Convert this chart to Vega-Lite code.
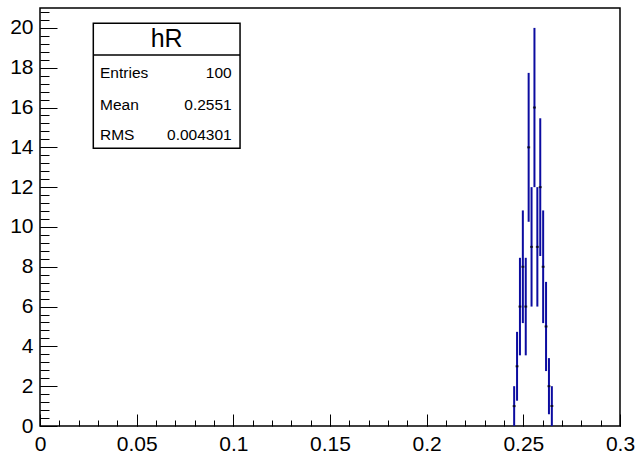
{
  "$schema": "https://vega.github.io/schema/vega-lite/v6.json",
  "width": 580,
  "height": 418,
  "autosize": {"type": "none"},
  "padding": {"left": 40, "top": 8, "right": 18, "bottom": 27},
  "background": "white",
  "config": {
    "view": {"stroke": "black", "strokeWidth": 1.5},
    "axis": {"grid": false, "domain": false, "labelFont": "Liberation Sans", "labelFontSize": 21, "labelColor": "black", "tickColor": "black", "tickWidth": 1}
  },
  "datasets": {
    "bins": [
      {"x": 0.24525, "count": 1, "lo": 0, "hi": 2},
      {"x": 0.24675, "count": 3, "lo": 1.27, "hi": 4.73},
      {"x": 0.24825, "count": 6, "lo": 3.55, "hi": 8.45},
      {"x": 0.24975, "count": 8, "lo": 5.17, "hi": 10.83},
      {"x": 0.25125, "count": 6, "lo": 3.55, "hi": 8.45},
      {"x": 0.25275, "count": 14, "lo": 10.26, "hi": 17.74},
      {"x": 0.25425, "count": 9, "lo": 6, "hi": 12},
      {"x": 0.25575, "count": 16, "lo": 12, "hi": 20},
      {"x": 0.25725, "count": 9, "lo": 6, "hi": 12},
      {"x": 0.25875, "count": 12, "lo": 8.54, "hi": 15.46},
      {"x": 0.26025, "count": 8, "lo": 5.17, "hi": 10.83},
      {"x": 0.26175, "count": 5, "lo": 2.76, "hi": 7.24},
      {"x": 0.26325, "count": 2, "lo": 0.59, "hi": 3.41},
      {"x": 0.26475, "count": 1, "lo": 0, "hi": 2}
    ],
    "stats": [
      {"stat": "Entries", "val": "100"},
      {"stat": "Mean", "val": "0.2551"},
      {"stat": "RMS", "val": "0.004301"}
    ]
  },
  "resolve": {"axis": {"x": "independent", "y": "independent"}},
  "layer": [
    {
      "data": {"name": "bins"},
      "mark": {"type": "rule", "color": "#0c0ca0", "strokeWidth": 2},
      "encoding": {
        "x": {"field": "x", "type": "quantitative", "scale": {"domain": [0, 0.3], "nice": false, "zero": false},
          "axis": {"orient": "bottom", "title": null, "values": [0, 0.05, 0.1, 0.15, 0.2, 0.25, 0.3], "format": "~g", "tickSize": -12, "labelPadding": 19, "labelFlush": false, "labelOverlap": false}},
        "y": {"field": "lo", "type": "quantitative", "scale": {"domain": [0, 21], "nice": false},
          "axis": {"orient": "left", "title": null, "values": [0, 2, 4, 6, 8, 10, 12, 14, 16, 18, 20], "format": "d", "tickSize": -17, "labelPadding": 24, "labelFlush": false, "labelOverlap": false}},
        "y2": {"field": "hi"}
      }
    },
    {
      "data": {"name": "bins"},
      "mark": {"type": "tick", "orient": "horizontal", "color": "black", "size": 3, "thickness": 2},
      "encoding": {
        "x": {"field": "x", "type": "quantitative",
          "axis": {"orient": "bottom", "title": null, "labels": false, "tickSize": -6, "values": [0,0.01,0.02,0.03,0.04,0.05,0.06,0.07,0.08,0.09,0.1,0.11,0.12,0.13,0.14,0.15,0.16,0.17,0.18,0.19,0.2,0.21,0.22,0.23,0.24,0.25,0.26,0.27,0.28,0.29,0.3]}},
        "y": {"field": "count", "type": "quantitative",
          "axis": {"orient": "left", "title": null, "labels": false, "tickSize": -9, "values": [0,0.4,0.8,1.2,1.6,2,2.4,2.8,3.2,3.6,4,4.4,4.8,5.2,5.6,6,6.4,6.8,7.2,7.6,8,8.4,8.8,9.2,9.6,10,10.4,10.8,11.2,11.6,12,12.4,12.8,13.2,13.6,14,14.4,14.8,15.2,15.6,16,16.4,16.8,17.2,17.6,18,18.4,18.8,19.2,19.6,20,20.4,20.8]}}
      }
    },
    {
      "data": {"values": [{}]},
      "mark": {"type": "rect", "fill": "white", "stroke": "black", "strokeWidth": 1.5},
      "encoding": {
        "x": {"datum": 0.02757, "type": "quantitative", "axis": null},
        "x2": {"datum": 0.10347},
        "y": {"datum": 13.95, "type": "quantitative", "axis": null},
        "y2": {"datum": 20.23}
      }
    },
    {
      "data": {"values": [{}]},
      "mark": {"type": "rule", "color": "black", "strokeWidth": 1.5},
      "encoding": {
        "x": {"datum": 0.02757, "type": "quantitative", "axis": null},
        "x2": {"datum": 0.10347},
        "y": {"datum": 18.64, "type": "quantitative", "axis": null}
      }
    },
    {
      "data": {"values": [{"name": "hR"}]},
      "mark": {"type": "text", "font": "Liberation Sans", "fontSize": 25, "align": "center", "baseline": "middle", "color": "black"},
      "encoding": {
        "x": {"datum": 0.06553, "type": "quantitative", "axis": null},
        "y": {"datum": 19.46, "type": "quantitative", "axis": null},
        "text": {"field": "name"}
      }
    },
    {
      "data": {"name": "stats"},
      "transform": [{"filter": "datum.stat == 'Entries'"}],
      "layer": [
        {"mark": {"type": "text", "font": "Liberation Sans", "fontSize": 15.5, "align": "left", "baseline": "middle", "color": "black"},
         "encoding": {"x": {"datum": 0.03104, "type": "quantitative", "axis": null}, "y": {"datum": 17.75, "type": "quantitative", "axis": null}, "text": {"field": "stat"}}},
        {"mark": {"type": "text", "font": "Liberation Sans", "fontSize": 15.5, "align": "right", "baseline": "middle", "color": "black"},
         "encoding": {"x": {"datum": 0.09917, "type": "quantitative", "axis": null}, "y": {"datum": 17.75, "type": "quantitative", "axis": null}, "text": {"field": "val"}}}
      ]
    },
    {
      "data": {"name": "stats"},
      "transform": [{"filter": "datum.stat == 'Mean'"}],
      "layer": [
        {"mark": {"type": "text", "font": "Liberation Sans", "fontSize": 15.5, "align": "left", "baseline": "middle", "color": "black"},
         "encoding": {"x": {"datum": 0.03104, "type": "quantitative", "axis": null}, "y": {"datum": 16.13, "type": "quantitative", "axis": null}, "text": {"field": "stat"}}},
        {"mark": {"type": "text", "font": "Liberation Sans", "fontSize": 15.5, "align": "right", "baseline": "middle", "color": "black"},
         "encoding": {"x": {"datum": 0.09917, "type": "quantitative", "axis": null}, "y": {"datum": 16.13, "type": "quantitative", "axis": null}, "text": {"field": "val"}}}
      ]
    },
    {
      "data": {"name": "stats"},
      "transform": [{"filter": "datum.stat == 'RMS'"}],
      "layer": [
        {"mark": {"type": "text", "font": "Liberation Sans", "fontSize": 15.5, "align": "left", "baseline": "middle", "color": "black"},
         "encoding": {"x": {"datum": 0.03104, "type": "quantitative", "axis": null}, "y": {"datum": 14.62, "type": "quantitative", "axis": null}, "text": {"field": "stat"}}},
        {"mark": {"type": "text", "font": "Liberation Sans", "fontSize": 15.5, "align": "right", "baseline": "middle", "color": "black"},
         "encoding": {"x": {"datum": 0.09917, "type": "quantitative", "axis": null}, "y": {"datum": 14.62, "type": "quantitative", "axis": null}, "text": {"field": "val"}}}
      ]
    }
  ]
}
